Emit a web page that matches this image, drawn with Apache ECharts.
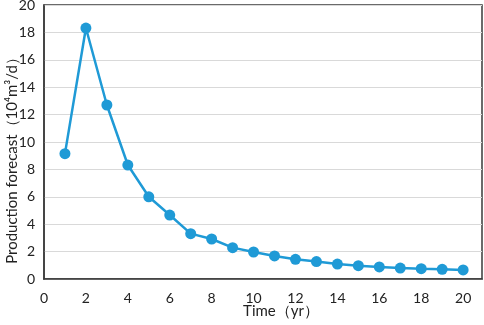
<!DOCTYPE html>
<html>
<head>
<meta charset="utf-8">
<script src="https://cdn.jsdelivr.net/npm/echarts@6/dist/echarts.min.js"></script>
<style>
  html, body { margin: 0; padding: 0; background: #fff; }
  #chart { width: 484px; height: 325px; }
</style>
</head>
<body>
<div id="chart"></div>
<script>
// 年份 与 预测产量 (10^4 m3/d)
var years = [1, 2, 3, 4, 5, 6, 7, 8, 9, 10, 11, 12, 13, 14, 15, 16, 17, 18, 19, 20]
var production = [9.15, 18.32, 12.7, 8.32, 6.0, 4.67, 3.31, 2.92, 2.29, 1.97, 1.68, 1.44, 1.27, 1.09, 0.97, 0.88, 0.8, 0.75, 0.71, 0.66]

var xTitle = 'Time（yr）'
var yTitle = 'Production forecast（10⁴m³/d）'

var myChart = echarts.init(document.getElementById('chart'))

var font = 'Lato, "Noto Sans", sans-serif'

var option = {
  animation: false,
  grid: {
    left: 44,
    right: 2,
    top: 5,
    bottom: 46,
    containLabel: false,
    outerBoundsMode: 'none',
    show: true,
    borderColor: '#3a3a3a',
    borderWidth: 1.5,
  },
  xAxis: {
    type: 'value',
    min: 0,
    max: 20.9,
    interval: 2,
    name: xTitle,
    nameLocation: 'middle',
    nameGap: 25,
    nameMoveOverlap: false,
    nameTextStyle: { color: '#222', fontSize: 15, fontFamily: font, padding: [0, 0, 0, 36] },
    axisLine: { show: true, lineStyle: { color: '#3a3a3a', width: 1.5 } },
    axisTick: { show: false },
    axisLabel: { color: '#222', fontSize: 14, fontFamily: font, margin: 12, showMaxLabel: false },
    splitLine: { show: false },
  },
  yAxis: {
    type: 'value',
    min: 0,
    max: 20,
    interval: 2,
    name: yTitle,
    nameLocation: 'middle',
    nameGap: 24,
    nameMoveOverlap: false,
    nameRotate: 90,
    nameTextStyle: { color: '#222', fontSize: 15, fontFamily: font, padding: [0, 30, 0, 0] },
    axisLine: { show: true, lineStyle: { color: '#3a3a3a', width: 1.5 } },
    axisTick: { show: false },
    axisLabel: { color: '#222', fontSize: 14, fontFamily: font, margin: 9 },
    splitLine: { show: true, lineStyle: { color: '#d9d9d9', width: 1 } },
  },
  series: [
    {
      type: 'line',
      data: years.map(function (y, i) { return [y, production[i]] }),
      symbol: 'circle',
      symbolSize: 11,
      lineStyle: { color: '#1f9ad6', width: 2.5 },
      itemStyle: { color: '#1f9ad6' },
    },
  ],
}

myChart.setOption(option)
</script>
</body>
</html>
